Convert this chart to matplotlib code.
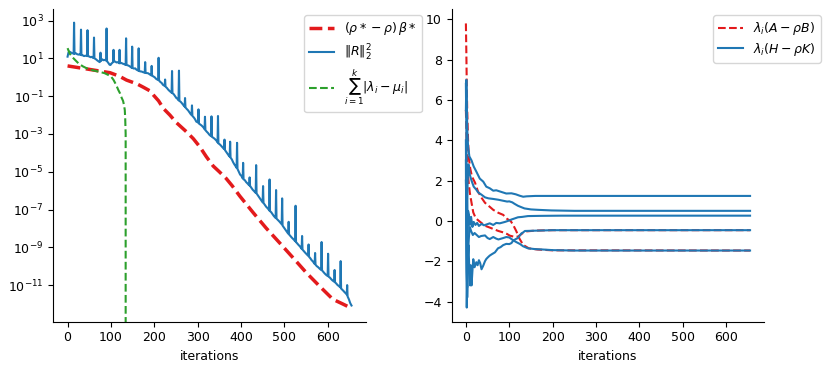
import numpy as np
import matplotlib
matplotlib.use("Agg")
import matplotlib.pyplot as plt
from matplotlib.ticker import MultipleLocator

plt.rcParams['font.size'] = 9

# ---------------- left panel data (log10 of values) ----------------
red_iter = [0, 44, 98, 120, 136, 160, 175, 190, 198, 210, 221, 236, 251, 274, 290, 305,
            320, 336, 350, 366, 380, 397, 428, 458, 489, 520, 551, 581, 612, 635, 650, 655]
red_log = [0.60, 0.44, 0.24, 0.05, -0.15, -0.35, -0.53, -0.72, -0.94, -1.25, -1.65, -2.0,
           -2.4, -2.88, -3.25, -3.68, -4.2, -4.7, -5.0, -5.36, -5.75, -6.28, -7.16, -7.98,
           -8.76, -9.55, -10.35, -11.05, -11.75, -12.0, -12.17, -12.2]

green_iter = [0, 5, 10, 18, 25, 35, 48, 60, 71, 85, 94, 100, 106, 112, 117, 121, 125, 128,
              130, 132, 133, 134, 135, 655]
green_log = [1.54, 1.25, 1.09, 0.9, 0.74, 0.58, 0.43, 0.36, 0.30, 0.22, 0.12, 0.05, -0.14,
             -0.4, -0.67, -0.85, -1.1, -1.25, -1.45, -1.73, -2.2, -3.0]

resid_pts = [(0,1.09),(2,1.30),(4,1.36),(7,1.32),(10,1.28),(13,1.26),(14,1.25),(15,2.89),(16,1.24),(19,1.27),(22,1.22),(25,1.20),(28,1.21),(30,1.18),(31,2.52),(32,1.17),(35,1.16),(38,1.12),(41,1.14),(44,1.13),(45,1.12),(46,2.49),(47,1.12),(50,1.10),(53,1.06),(56,1.08),(59,1.02),(60,1.02),(61,2.10),(62,1.00),(65,0.96),(68,0.90),(71,0.85),(74,0.80),(75,0.83),(76,1.30),(77,0.86),(80,0.95),(83,0.90),(86,0.92),(89,0.88),(90,2.58),(91,0.85),(94,0.76),(97,0.66),(99,0.65),(102,0.74),(105,0.80),(106,1.45),(107,0.83),(110,0.83),(113,0.78),(116,0.80),(119,0.74),(120,1.45),(121,0.74),(124,0.76),(127,0.72),(130,0.70),(133,0.66),(134,0.66),(135,2.06),(136,0.65),(139,0.63),(142,0.60),(145,0.55),(148,0.50),(149,1.62),(150,0.49),(153,0.46),(156,0.47),(159,0.40),(162,0.36),(163,0.35),(164,1.53),(165,0.33),(168,0.31),(171,0.30),(174,0.27),(177,0.25),(178,0.24),(179,0.80),(180,0.23),(183,0.22),(186,0.21),(189,0.16),(192,0.12),(193,0.10),(194,0.60),(195,0.09),(198,0.04),(201,0.00),(204,-0.08),(207,-0.12),(209,-0.15),(210,1.03),(211,-0.17),(214,-0.25),(217,-0.30),(220,-0.40),(223,-0.45),(224,-0.46),(225,-0.12),(226,-0.50),(229,-0.56),(232,-0.65),(235,-0.72),(238,-0.78),(240,-0.82),(241,0.33),(242,-0.84),(245,-0.90),(248,-1.00),(251,-1.10),(254,-1.15),(256,-1.22),(257,0.35),(258,-1.25),(261,-1.30),(264,-1.38),(267,-1.47),(270,-1.55),(271,-1.10),(272,-1.60),(275,-1.68),(278,-1.75),(281,-1.85),(284,-1.95),(286,-2.00),(287,-1.49),(288,-2.05),(291,-2.12),(294,-2.22),(297,-2.35),(300,-2.38),(301,-2.40),(302,-1.70),(303,-2.45),(306,-2.50),(309,-2.55),(312,-2.62),(315,-2.70),(316,-2.75),(317,-2.09),(318,-2.80),(321,-2.88),(324,-2.95),(327,-3.04),(330,-3.10),(331,-3.12),(332,-2.07),(333,-3.15),(336,-3.20),(339,-3.25),(342,-3.32),(345,-3.40),(346,-3.45),(347,-2.05),(348,-3.50),(351,-3.55),(354,-3.62),(357,-3.70),(360,-3.78),(361,-3.80),(362,-3.30),(363,-3.85),(366,-3.95),(369,-4.05),(372,-4.15),(374,-4.20),(375,-3.41),(376,-4.25),(379,-4.35),(382,-4.50),(385,-4.62),(388,-4.72),(390,-4.80),(391,-3.47),(392,-4.85),(395,-5.00),(398,-5.15),(401,-5.22),(404,-5.35),(405,-4.53),(406,-5.40),(409,-5.45),(412,-5.55),(415,-5.62),(418,-5.70),(419,-5.72),(420,-5.30),(421,-5.75),(424,-5.85),(427,-5.95),(430,-6.02),(433,-6.10),(434,-6.12),(435,-4.65),(436,-6.15),(439,-6.25),(442,-6.35),(445,-6.45),(448,-6.55),(450,-6.62),(451,-5.76),(452,-6.65),(455,-6.75),(458,-6.85),(461,-6.92),(464,-7.00),(465,-7.05),(466,-5.41),(467,-7.08),(470,-7.15),(473,-7.25),(476,-7.35),(479,-7.42),(480,-7.45),(481,-5.97),(482,-7.48),(485,-7.55),(488,-7.62),(491,-7.70),(494,-7.78),(495,-6.41),(496,-7.85),(499,-7.95),(502,-8.05),(505,-8.15),(508,-8.25),(509,-8.28),(510,-7.65),(511,-8.32),(514,-8.40),(517,-8.48),(520,-8.55),(523,-8.62),(525,-8.68),(526,-6.80),(527,-8.72),(530,-8.80),(533,-8.88),(536,-8.95),(539,-9.05),(540,-9.08),(541,-8.40),(542,-9.12),(545,-9.20),(548,-9.28),(551,-9.35),(554,-9.42),(555,-9.45),(556,-8.85),(557,-9.50),(560,-9.58),(563,-9.68),(566,-9.75),(569,-9.85),(570,-9.88),(571,-9.30),(572,-9.92),(575,-10.00),(578,-10.05),(581,-10.12),(584,-10.18),(585,-10.20),(586,-8.72),(587,-10.22),(590,-10.30),(593,-10.38),(596,-10.45),(599,-10.50),(600,-10.52),(601,-9.34),(602,-10.55),(605,-10.60),(608,-10.68),(611,-10.75),(614,-10.80),(615,-10.82),(616,-10.20),(617,-10.85),(620,-10.92),(623,-11.00),(626,-11.05),(629,-11.12),(630,-9.73),(631,-11.18),(634,-11.25),(637,-11.32),(640,-11.40),(643,-11.45),(644,-11.50),(645,-11.00),(646,-11.60),(649,-11.75),(652,-11.95),(655,-12.08)]

# ---------------- right panel data ----------------
ab1_x = [0, 1, 2, 3, 5, 7, 10, 14, 21, 28, 36, 44, 55, 63, 75, 86, 95, 103, 109, 116, 124, 132, 145, 165, 200, 655]
ab1_v = [9.8, 8.4, 6.8, 5.5, 4.0, 3.1, 2.6, 2.2, 1.9, 1.45, 1.15, 0.9, 0.7, 0.55, 0.4, 0.3, 0.1, 0.0, -0.2, -0.5, -0.9, -1.19, -1.36, -1.42, -1.46, -1.47]
ab2_x = [0, 2, 4, 6, 9, 13, 17, 21, 25, 30, 37, 44, 55, 63, 75, 86, 95, 101, 110, 120, 130, 140, 160, 200, 655]
ab2_v = [5.5, 3.6, 2.6, 2.0, 1.4, 0.9, 0.42, 0.22, 0.09, 0.0, -0.12, -0.24, -0.33, -0.4, -0.5, -0.57, -0.65, -0.73, -0.78, -0.78, -0.62, -0.52, -0.48, -0.46, -0.46]

hk1_x = [0, 1, 2, 3, 5, 8, 13, 18, 24, 32, 40, 47, 55, 63, 70, 80, 93, 105, 115, 124, 132, 140, 160, 200, 655]
hk1_v = [5.5, 7.0, 6.2, 4.6, 3.7, 3.2, 3.0, 2.7, 2.45, 2.1, 1.95, 1.7, 1.62, 1.5, 1.52, 1.45, 1.36, 1.37, 1.32, 1.25, 1.2, 1.22, 1.24, 1.24, 1.24]
hk2_x = [0, 1, 2, 3, 4, 6, 9, 13, 18, 24, 28, 36, 44, 52, 63, 75, 86, 95, 100, 107, 112, 120, 128, 135, 150, 166, 197, 250, 655]
hk2_v = [6.8, 4.5, 1.5, 0.5, 2.0, 2.8, 2.3, 2.0, 1.7, 1.55, 1.42, 1.3, 1.17, 1.12, 1.09, 1.05, 1.0, 0.96, 0.97, 0.92, 0.85, 0.75, 0.68, 0.62, 0.57, 0.55, 0.52, 0.5, 0.5]
hk3_x = [0, 1, 2, 3, 4, 5, 7, 9, 12, 15, 18, 22, 26, 30, 36, 42, 47, 55, 63, 70, 78, 85, 90, 97, 105, 112, 120, 130, 143, 170, 220, 655]
hk3_v = [4.0, 0.5, -2.5, -3.3, -1.5, 0.5, 0.3, -0.2, 0.2, -0.3, -0.05, -0.2, -0.1, -0.25, -0.15, -0.22, -0.18, -0.12, -0.2, -0.1, -0.12, -0.08, -0.05, 0.0, 0.07, 0.12, 0.18, 0.2, 0.24, 0.25, 0.26, 0.26]
hk4_x = [0, 1, 2, 3, 4, 6, 8, 10, 11, 13, 15, 17, 20, 24, 27, 30, 33, 36, 40, 44, 47, 51, 55, 60, 67, 74, 80, 86, 93, 100, 105, 109, 115, 120, 124, 128, 132, 136, 151, 200, 655]
hk4_v = [3.0, -1.5, -4.3, -3.0, -2.0, -1.2, -2.5, -3.2, -2.2, -3.2, -2.5, -1.9, -2.3, -2.05, -2.2, -1.95, -2.1, -2.4, -2.22, -2.0, -1.89, -1.8, -1.72, -1.65, -1.56, -1.36, -1.3, -1.2, -1.14, -1.15, -1.1, -0.98, -0.9, -0.85, -0.73, -0.62, -0.57, -0.5, -0.49, -0.46, -0.46]
hk5_x = [0, 1, 2, 3, 5, 7, 9, 12, 16, 20, 24, 30, 35, 44, 50, 55, 63, 70, 75, 86, 93, 100, 105, 112, 117, 125, 132, 143, 160, 178, 200, 250, 655]
hk5_v = [2.0, 1.0, -1.5, -3.8, -1.5, -0.8, -0.3, -0.5, -0.7, -0.6, -0.68, -0.8, -0.75, -0.72, -0.85, -0.9, -0.8, -0.88, -0.92, -0.85, -0.8, -0.82, -0.9, -1.0, -1.06, -1.15, -1.26, -1.36, -1.40, -1.42, -1.45, -1.47, -1.47]

RED = '#e31a1c'
BLUE = '#1f77b4'
GREEN = '#2ca02c'

fig = plt.figure(figsize=(8.3, 3.69), dpi=100)
ax1 = fig.add_axes([0.0643, 0.128, 0.3763, 0.847])
ax2 = fig.add_axes([0.5442, 0.128, 0.3766, 0.847])

# left
ax1.set_yscale('log')
ax1.plot(red_iter, 10.0 ** np.array(red_log), '--', color=RED, lw=2.5,
         label=r'$(\rho * - \rho)\, \beta *$')
rx = [p[0] for p in resid_pts]
ry = [10.0 ** p[1] for p in resid_pts]
ax1.plot(rx, ry, '-', color=BLUE, lw=1.5, label=r'$\|R\|_2^2$')
gy = list(10.0 ** np.array(green_log)) + [0.0, 0.0]
ax1.plot(green_iter, gy, '--', color=GREEN, lw=1.5,
         label=r'$\sum_{i=1}^{k}|\lambda_i - \mu_i|$')
ax1.set_ylim(10 ** -12.94, 10 ** 3.6)
ax1.set_xlabel('iterations')
ax1.legend(loc='upper right', bbox_to_anchor=(1.2, 1.0), labelspacing=0.4)

# right
for i, (xs, vs) in enumerate([(ab1_x, ab1_v), (ab2_x, ab2_v)]):
    ax2.plot(xs, vs, '--', color=RED, lw=1.5,
             label=r'$\lambda_i(A - \rho B)$' if i == 0 else None)
for i, (xs, vs) in enumerate([(hk1_x, hk1_v), (hk2_x, hk2_v), (hk3_x, hk3_v),
                              (hk4_x, hk4_v), (hk5_x, hk5_v)]):
    ax2.plot(xs, vs, '-', color=BLUE, lw=1.5,
             label=r'$\lambda_i(H - \rho K)$' if i == 0 else None)
ax2.set_xlabel('iterations')
ax2.legend(loc='upper right', bbox_to_anchor=(1.2, 1.0), labelspacing=0.25)

for ax in (ax1, ax2):
    ax.spines['top'].set_visible(False)
    ax.spines['right'].set_visible(False)
    ax.xaxis.set_major_locator(MultipleLocator(100))

fig.savefig('out.png', dpi=100)
